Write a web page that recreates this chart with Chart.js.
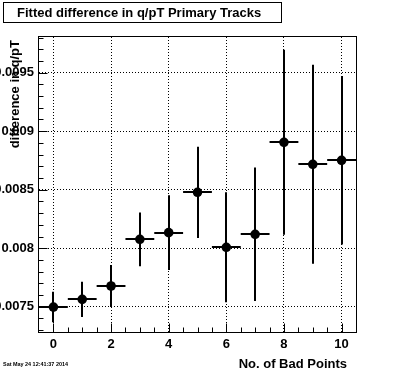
<!DOCTYPE html>
<html>
<head>
<meta charset="utf-8">
<script src="https://cdn.jsdelivr.net/npm/chart.js@4/dist/chart.umd.min.js"></script>
<style>
html,body{margin:0;padding:0;background:#fff;}
canvas{display:block;}
</style>
</head>
<body>
<canvas id="c" width="396" height="372" style="width:396px;height:372px"></canvas>
<script>
// ---- data ----
const titleText = "Fitted difference in q/pT Primary Tracks";
const xTitle = "No. of Bad Points";
const yTitle = "difference in q/pT";
const stampText = "Sat May 24 12:41:37 2014";

const xVals = [0, 1, 2, 3, 4, 5, 6, 7, 8, 9, 10];
const yVals = [0.007497, 0.007563, 0.007677, 0.008076, 0.008133, 0.008478, 0.008008, 0.008119, 0.008905, 0.008717, 0.008751];
const xErr  = [0.5, 0.5, 0.5, 0.5, 0.5, 0.5, 0.5, 0.5, 0.5, 0.5, 0.5];
const yErr  = [0.00013, 0.00015, 0.00018, 0.00023, 0.00032, 0.00039, 0.00047, 0.00057, 0.00079, 0.00085, 0.00072];

const xTicks = [0, 2, 4, 6, 8, 10];
const xTickLabels = ["0", "2", "4", "6", "8", "10"];
const yTicks = [0.0075, 0.008, 0.0085, 0.009, 0.0095];
const yTickLabels = ["0.0075", "0.008", "0.0085", "0.009", "0.0095"];

const xRange = [-0.5, 10.5];
const yRange = [0.007284, 0.009805];
const xMinorStep = 0.5;
const yMinorStep = 0.0001;

const FONT = "'Liberation Sans', Arial, Helvetica, sans-serif";

const decor = {
  id: 'decor',
  beforeDatasetsDraw(chart) {
    const {ctx, chartArea: a, scales: {x, y}} = chart;
    ctx.save();
    ctx.beginPath();
    ctx.rect(a.left, a.top, a.right - a.left, a.bottom - a.top);
    ctx.clip();
    ctx.strokeStyle = '#000';
    ctx.lineWidth = 2;
    for (let i = 0; i < xVals.length; i++) {
      const px = Math.round(x.getPixelForValue(xVals[i]));
      const py = Math.round(y.getPixelForValue(yVals[i]));
      const x1 = x.getPixelForValue(xVals[i] - xErr[i]);
      const x2 = x.getPixelForValue(xVals[i] + xErr[i]);
      const y1 = y.getPixelForValue(yVals[i] - yErr[i]);
      const y2 = y.getPixelForValue(yVals[i] + yErr[i]);
      ctx.beginPath();
      ctx.moveTo(px, y1); ctx.lineTo(px, y2);
      ctx.moveTo(x1, py); ctx.lineTo(x2, py);
      ctx.stroke();
    }
    ctx.restore();
  },
  afterDraw(chart) {
    const {ctx, chartArea: a, scales: {x, y}} = chart;
    ctx.save();
    ctx.strokeStyle = '#000';
    ctx.lineWidth = 1;
    const L = Math.floor(a.left) - 0.5, R = Math.round(a.right) + 0.5;
    const T = Math.floor(a.top) - 0.5, B = Math.round(a.bottom) + 0.5;
    ctx.strokeRect(L, T, R - L, B - T);
    // ticks
    ctx.beginPath();
    const nx = Math.round((xRange[1] - xRange[0]) / xMinorStep);
    for (let k = 0; k <= nx; k++) {
      const v = xRange[0] + k * xMinorStep;
      const px = Math.round(x.getPixelForValue(v)) + 0.5;
      if (px <= L + 1 || px >= R - 1) continue;
      const major = xTicks.some(t => Math.abs(t - v) < 1e-9);
      const len = major ? 9 : 5;
      ctx.moveTo(px, B); ctx.lineTo(px, B - len);
    }
    const y0 = Math.ceil(yRange[0] / yMinorStep - 1e-6);
    const y1 = Math.floor(yRange[1] / yMinorStep + 1e-6);
    for (let k = y0; k <= y1; k++) {
      const v = k * yMinorStep;
      const py = Math.round(y.getPixelForValue(v)) + 0.5;
      if (py <= T + 1 || py >= B - 1) continue;
      const major = yTicks.some(t => Math.abs(t - v) < 1e-9);
      const len = major ? 9 : 5;
      ctx.moveTo(L, py); ctx.lineTo(L + len, py);
    }
    ctx.stroke();

    // title box
    ctx.fillStyle = '#000';
    ctx.strokeRect(3.5, 2.5, 278, 20);
    ctx.font = 'bold 13px ' + FONT;
    ctx.textAlign = 'left';
    ctx.textBaseline = 'middle';
    ctx.fillText(titleText, 17, 13);

    // x title
    ctx.textAlign = 'right';
    ctx.fillText(xTitle, 347, 364);

    // y title
    ctx.save();
    ctx.translate(15, 40);
    ctx.rotate(-Math.PI / 2);
    ctx.textAlign = 'right';
    ctx.textBaseline = 'middle';
    ctx.fillText(yTitle, 0, 0);
    ctx.restore();

    // timestamp
    ctx.font = 'bold 8px ' + FONT;
    const w = ctx.measureText(stampText).width;
    const fs = 8 * 65 / w;
    ctx.font = 'bold ' + fs.toFixed(2) + 'px ' + FONT;
    ctx.textAlign = 'left';
    ctx.textBaseline = 'middle';
    ctx.fillText(stampText, 3, 364);
    ctx.restore();
  }
};

new Chart(document.getElementById('c'), {
  type: 'scatter',
  data: {
    datasets: [{
      data: xVals.map((v, i) => ({x: v, y: yVals[i]})),
      pointRadius: 4.8,
      pointHoverRadius: 4.8,
      pointBackgroundColor: '#000',
      pointBorderColor: '#000',
      pointBorderWidth: 0,
      showLine: false
    }]
  },
  options: {
    animation: false,
    responsive: false,
    devicePixelRatio: 1,
    events: [],
    layout: {padding: {top: 37, right: 40, left: 0, bottom: 0}},
    plugins: {legend: {display: false}, tooltip: {enabled: false}, title: {display: false}},
    scales: {
      x: {
        type: 'linear',
        min: xRange[0], max: xRange[1],
        afterBuildTicks: s => { s.ticks = xTicks.map(v => ({value: v})); },
        afterFit: s => { s.height = 40; },
        ticks: {
          callback: (v, i) => xTickLabels[i],
          font: {family: FONT, weight: 'bold', size: 13},
          color: '#000', padding: 5, maxRotation: 0, autoSkip: false
        },
        grid: {color: '#000', lineWidth: 1, drawTicks: false},
        border: {display: false, dash: [1, 2]}
      },
      y: {
        type: 'linear',
        min: yRange[0], max: yRange[1],
        afterBuildTicks: s => { s.ticks = yTicks.map(v => ({value: v})); },
        afterFit: s => { s.width = 39; },
        ticks: {
          callback: (v, i) => yTickLabels[i],
          font: {family: FONT, weight: 'bold', size: 13},
          color: '#000', padding: 5, autoSkip: false
        },
        grid: {color: '#000', lineWidth: 1, drawTicks: false},
        border: {display: false, dash: [1, 2]}
      }
    }
  },
  plugins: [decor]
});
</script>
</body>
</html>
